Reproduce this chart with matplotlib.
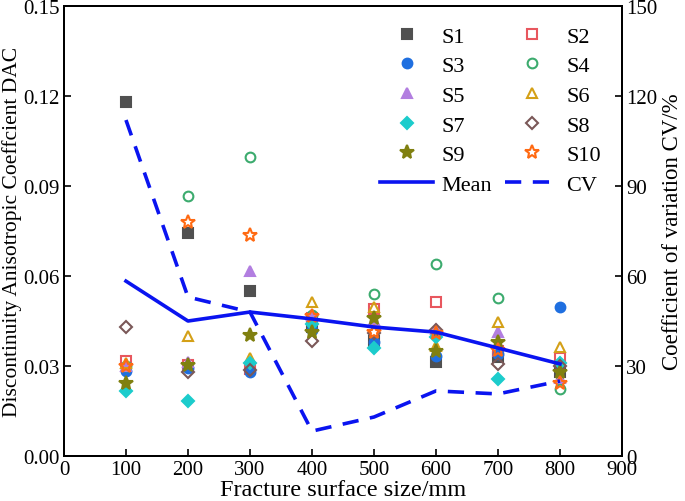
import matplotlib
matplotlib.use("Agg")
import matplotlib.pyplot as plt

plt.rcParams['font.family'] = ['Liberation Serif', 'DejaVu Serif']
plt.rcParams['mathtext.fontset'] = 'stix'

sizes = [100, 200, 300, 400, 500, 600, 700, 800]
S1 = [0.118, 0.0743, 0.055, 0.043, 0.0383, 0.0313, 0.033, 0.028]
S2 = [0.0317, 0.0305, 0.029, 0.046, 0.049, 0.0513, 0.035, 0.0327]
S3 = [0.0283, 0.0295, 0.028, 0.042, 0.038, 0.0333, 0.034, 0.0497]
S4 = [0.0300, 0.0867, 0.0997, 0.047, 0.054, 0.064, 0.0527, 0.0223]
S5 = [0.0300, 0.0313, 0.0617, 0.047, 0.0453, 0.0423, 0.0413, 0.026]
S6 = [0.0310, 0.0400, 0.0327, 0.0513, 0.0497, 0.0367, 0.0447, 0.0363]
S7 = [0.0217, 0.0183, 0.031, 0.044, 0.036, 0.0397, 0.0257, 0.031]
S8 = [0.043, 0.028, 0.0287, 0.0383, 0.041, 0.042, 0.0307, 0.030]
S9 = [0.0243, 0.0303, 0.0403, 0.0413, 0.046, 0.035, 0.038, 0.028]
S10 = [0.0300, 0.078, 0.0737, 0.0467, 0.0413, 0.041, 0.0353, 0.0243]
mean_vals = [0.0583, 0.045, 0.048, 0.0457, 0.043, 0.0413, 0.036, 0.0307]
cv_vals = [112, 53, 48, 8.3, 13, 21.7, 20.7, 25]

series = [
    ("S1", S1, dict(marker='s', color='#505050', mfc='#505050')),
    ("S2", S2, dict(marker='s', color='#e8575e', mfc='none')),
    ("S3", S3, dict(marker='o', color='#1f6fe0', mfc='#1f6fe0')),
    ("S4", S4, dict(marker='o', color='#3cab6e', mfc='none')),
    ("S5", S5, dict(marker='^', color='#b27ee0', mfc='#b27ee0')),
    ("S6", S6, dict(marker='^', color='#d4a017', mfc='none')),
    ("S7", S7, dict(marker='D', color='#1ccccc', mfc='#1ccccc')),
    ("S8", S8, dict(marker='D', color='#7a5858', mfc='none')),
    ("S9", S9, dict(marker='*', color='#808010', mfc='#808010')),
    ("S10", S10, dict(marker='*', color='#ff6a13', mfc='none')),
]

fig = plt.figure(figsize=(6.85, 5.02), dpi=100)
ax = fig.add_axes([0.0934, 0.0896, 0.8146, 0.8964])
ax2 = ax.twinx()

handles = []
for name, vals, st in series:
    ms = 7
    if st['marker'] == 'D':
        ms = 6.5
    if st['marker'] == '*':
        ms = 10
    h, = ax.plot(sizes, vals, linestyle='none', marker=st['marker'], color=st['color'],
                 mfc=st['mfc'], mec=st['color'], ms=ms, mew=1.5, label=name)
    handles.append(h)

hm, = ax.plot(sizes, mean_vals, color='#0a14f0', lw=2.6, label='Mean')
hc, = ax2.plot(sizes, cv_vals, color='#0a14f0', lw=2.6, ls=(0, (4.5, 3.2)), label='CV')

ax.set_xlim(0, 900)
ax.set_ylim(0, 0.15)
ax2.set_ylim(0, 150)
ax.set_xticks(range(0, 901, 100))
ax.set_yticks([0, 0.03, 0.06, 0.09, 0.12, 0.15])
ax.set_yticklabels(['0.00', '0.03', '0.06', '0.09', '0.12', '0.15'])
ax2.set_yticks([0, 30, 60, 90, 120, 150])

for a in (ax, ax2):
    a.tick_params(direction='in', labelsize=15, width=1.2, length=5, pad=3)
    for sp in a.spines.values():
        sp.set_linewidth(1.4)

ax.set_xlabel('Fracture surface size/mm', fontsize=17.5, labelpad=0)
ax.set_ylabel('Discontinuity Anisotropic Coeffcient DAC', fontsize=15.5, labelpad=1)
ax2.set_ylabel('Coefficient of variation CV/%', fontsize=16.5, labelpad=3)

col1 = [handles[0], handles[2], handles[4], handles[6], handles[8], hm]
col2 = [handles[1], handles[3], handles[5], handles[7], handles[9], hc]
order = col1 + col2
leg = ax.legend(handles=order, labels=[h.get_label() for h in order], ncol=2,
                frameon=False, fontsize=16, loc='upper left',
                bbox_to_anchor=(380 / 685, 1 - 27 / 502), bbox_transform=fig.transFigure,
                borderaxespad=0, borderpad=0,
                handlelength=2.4, columnspacing=0.6,
                labelspacing=0.41, handletextpad=0.35)

fig.savefig('out.png', dpi=100)
